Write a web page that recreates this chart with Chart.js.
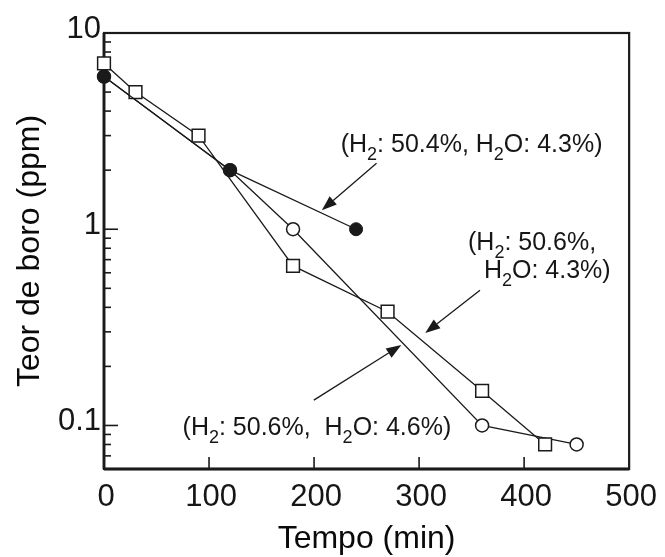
<!DOCTYPE html>
<html><head><meta charset="utf-8">
<script src="https://cdn.jsdelivr.net/npm/chart.js@4/dist/chart.umd.min.js"></script>
<style>html,body{margin:0;padding:0;background:#fff}#wrap{width:665px;height:557px;position:relative}</style>
</head><body><div id="wrap"><canvas id="c"></canvas></div>
<script>
// ---- data ----
const timeFilled = [0, 120, 240];
const boroFilled = [6.0, 2.0, 1.0];
const timeSquare = [0, 30, 90, 180, 270, 360, 420];
const boroSquare = [7.0, 5.0, 3.0, 0.65, 0.38, 0.15, 0.08];
const timeOpen = [0, 120, 180, 360, 450];
const boroOpen = [6.0, 2.0, 1.0, 0.10, 0.08];
const xTickValues = [0, 100, 200, 300, 400, 500];
const yTickValues = [0.1, 1, 10];
const yTickLabels = ['0.1', '1', '10'];
const xTitle = 'Tempo (min)';
const yTitle = 'Teor de boro (ppm)';
const seriesNames = ['(H₂: 50.4%, H₂O: 4.3%)', '(H₂: 50.6%, H₂O: 4.3%)', '(H₂: 50.6%, H₂O: 4.6%)'];

// ---- annotations (positions in data units: [minutes, ppm]) ----
const notes = [
  { lines: [ { at: [225.4, 2.47], parts: [['(H',0],['2',1],[': 50.4%, H',0],['2',1],['O: 4.3%)',0]] } ],
    arrow: { from: [259.5, 2.17], to: [207.4, 1.25] } },
  { lines: [ { at: [346.6, 0.782], parts: [['(H',0],['2',1],[': 50.6%,',0]] },
             { at: [361.7, 0.563], parts: [['H',0],['2',1],['O: 4.3%)',0]] } ],
    arrow: { from: [358.0, 0.489], to: [305.9, 0.2956] } },
  { lines: [ { at: [74.8, 0.0894], parts: [['(H',0],['2',1],[': 50.6%,  H',0],['2',1],['O: 4.6%)',0]] } ],
    arrow: { from: [199.8, 0.1347], to: [283.1, 0.2568] } }
];

const FONT = '"Liberation Sans", Arial, Helvetica, sans-serif';
const INK = '#1a1a1a';
const TXT = '#161616';

function pts(xs, ys) { return xs.map((x, i) => ({ x: x, y: ys[i] })); }

const decor = {
  id: 'decor',
  beforeDatasetsDraw(chart) {
    const { ctx, chartArea: a, scales: { x, y } } = chart;
    ctx.save();
    ctx.strokeStyle = INK;
    ctx.lineWidth = 1.6;
    const seg = (x1, y1, x2, y2) => { ctx.beginPath(); ctx.moveTo(x1, y1); ctx.lineTo(x2, y2); ctx.stroke(); };
    for (let e = -2; e <= 1; e++) {
      for (let m = 1; m <= 9; m++) {
        const v = m * Math.pow(10, e);
        if (v <= y.min * 1.0001 || v >= y.max * 0.9999) continue;
        const py = y.getPixelForValue(v);
        seg(a.left, py, a.left + (m === 1 ? 14 : 7), py);
      }
    }
    xTickValues.forEach(v => {
      if (v <= x.min || v >= x.max) return;
      const px = x.getPixelForValue(v);
      seg(px, a.bottom, px, a.bottom - 12);
    });
    ctx.lineWidth = 2.2;
    ctx.strokeRect(a.left, a.top, a.right - a.left, a.bottom - a.top);
    ctx.lineWidth = 2.8;
    seg(a.left, a.top, a.left, a.bottom);
    seg(a.left, a.bottom, a.right, a.bottom);
    ctx.restore();
  },
  afterDatasetsDraw(chart) {
    const { ctx, scales: { x, y } } = chart;
    ctx.save();
    ctx.fillStyle = TXT;
    ctx.textBaseline = 'alphabetic';
    ctx.textAlign = 'left';
    notes.forEach(n => {
      n.lines.forEach(l => {
        let px = x.getPixelForValue(l.at[0]);
        const py = y.getPixelForValue(l.at[1]);
        l.parts.forEach(([t, sub]) => {
          ctx.font = (sub ? '18px ' : '25px ') + FONT;
          ctx.fillText(t, px, py + (sub ? 8 : 0));
          px += ctx.measureText(t).width;
        });
      });
      const x1 = x.getPixelForValue(n.arrow.from[0]), y1 = y.getPixelForValue(n.arrow.from[1]);
      const x2 = x.getPixelForValue(n.arrow.to[0]), y2 = y.getPixelForValue(n.arrow.to[1]);
      const ang = Math.atan2(y2 - y1, x2 - x1);
      const L = 15, W = 5.5;
      const bx = x2 - L * Math.cos(ang), by = y2 - L * Math.sin(ang);
      ctx.strokeStyle = INK; ctx.lineWidth = 1.3;
      ctx.beginPath(); ctx.moveTo(x1, y1); ctx.lineTo(bx, by); ctx.stroke();
      ctx.fillStyle = INK;
      ctx.beginPath();
      ctx.moveTo(x2, y2);
      ctx.lineTo(bx + W * Math.sin(ang), by - W * Math.cos(ang));
      ctx.lineTo(bx - W * Math.sin(ang), by + W * Math.cos(ang));
      ctx.closePath(); ctx.fill();
      ctx.fillStyle = TXT;
    });
    ctx.restore();
  }
};

new Chart(document.getElementById('c'), {
  type: 'line',
  data: {
    datasets: [
      { label: seriesNames[0], data: pts(timeFilled, boroFilled), borderColor: INK, borderWidth: 1.3,
        pointStyle: 'circle', pointRadius: 6.5, pointBackgroundColor: INK, pointBorderColor: INK, pointBorderWidth: 1,
        clip: false, tension: 0, fill: false },
      { label: seriesNames[1], data: pts(timeSquare, boroSquare), borderColor: INK, borderWidth: 1.3,
        pointStyle: 'rect', pointRadius: 9, pointBackgroundColor: '#fff', pointBorderColor: INK, pointBorderWidth: 1.5,
        clip: false, tension: 0, fill: false },
      { label: seriesNames[2], data: pts(timeOpen, boroOpen), borderColor: INK, borderWidth: 1.3,
        pointStyle: 'circle', pointRadius: 6.5, pointBackgroundColor: '#fff', pointBorderColor: INK, pointBorderWidth: 1.5,
        clip: false, tension: 0, fill: false }
    ]
  },
  options: {
    responsive: true, maintainAspectRatio: false, animation: false, events: [],
    layout: { padding: { top: 33, right: 33, left: 0, bottom: 0 } },
    plugins: { legend: { display: false }, tooltip: { enabled: false } },
    scales: {
      x: {
        type: 'linear', min: 0, max: 500,
        grid: { display: false, drawTicks: false }, border: { display: false },
        afterBuildTicks: s => { s.ticks = xTickValues.map(v => ({ value: v })); },
        afterFit: s => { s.height = 88; },
        ticks: { padding: 10, labelOffset: 2, color: TXT, font: { family: FONT, size: 31 },
                 maxRotation: 0, autoSkip: false, callback: v => String(v) },
        title: { display: true, text: xTitle, color: '#0a0a0a', font: { family: FONT, size: 32, lineHeight: 1 },
                 padding: { top: 0, bottom: 2 } }
      },
      y: {
        type: 'logarithmic', min: 0.06, max: 10,
        grid: { display: false, drawTicks: false }, border: { display: false },
        afterBuildTicks: s => { s.ticks = yTickValues.map(v => ({ value: v })); },
        afterFit: s => { s.width = 104; },
        ticks: { padding: 3, labelOffset: -4, color: TXT, font: { family: FONT, size: 31 },
                 autoSkip: false, callback: (v, i) => yTickLabels[i] },
        title: { display: true, text: yTitle, color: '#0a0a0a', font: { family: FONT, size: 32, lineHeight: 1 },
                 padding: { top: 14, bottom: 0 } }
      }
    }
  },
  plugins: [decor]
});
</script>
</body></html>
